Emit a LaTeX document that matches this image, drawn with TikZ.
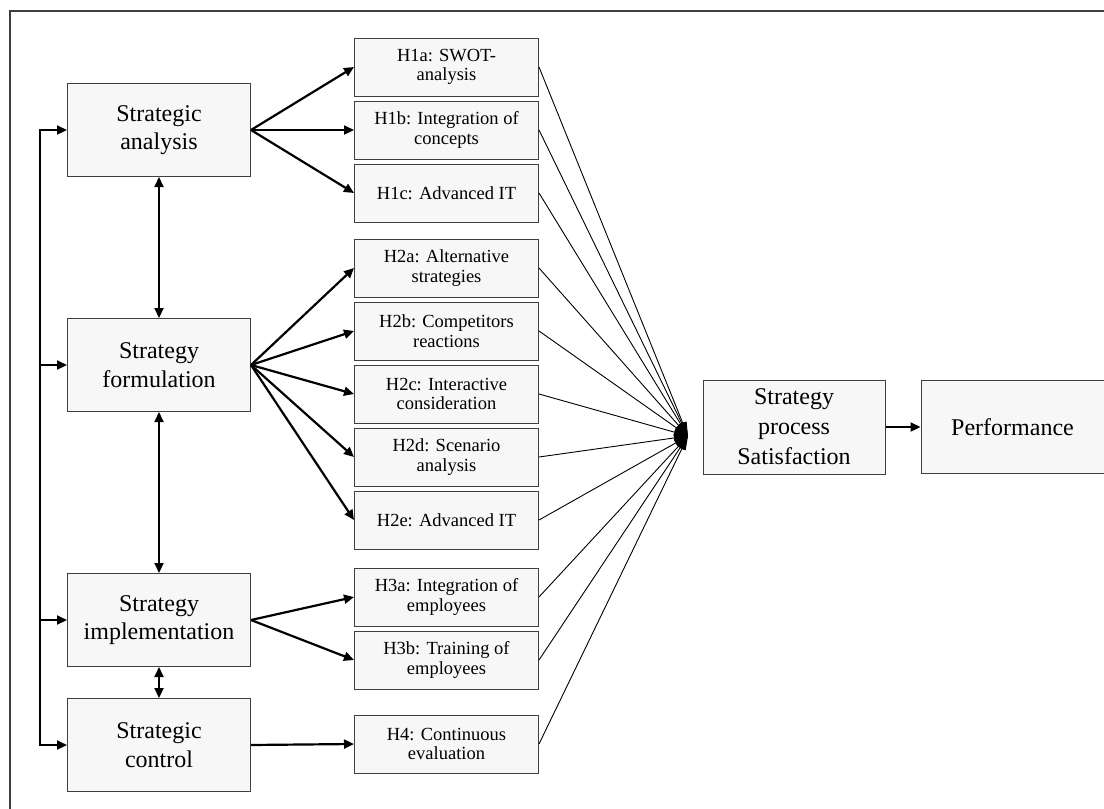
\documentclass[tikz,border=0pt]{standalone}
\usepackage{fontspec}
\setmainfont{Liberation Serif}
\usetikzlibrary{arrows.meta,positioning}
\definecolor{boxfill}{HTML}{F7F7F7}
\definecolor{boxline}{HTML}{3F3F3F}
\tikzstyle{mainbox}=[draw=boxline,fill=boxfill,line width=1pt,minimum width=183pt,minimum height=93pt,inner sep=0pt,align=center,font=\fontsize{24}{28.5}\selectfont]
\tikzstyle{hypbox}=[draw=boxline,fill=boxfill,line width=1pt,minimum width=184pt,minimum height=58pt,inner sep=0pt,align=center,font=\fontsize{18.5}{19.5}\selectfont]
\tikzstyle{link}=[line width=2.2pt,-{Triangle[length=10pt,width=9pt]}]
\tikzstyle{twoway}=[line width=2.2pt,{Triangle[length=10pt,width=9pt]}-{Triangle[length=10pt,width=9pt]}]
\tikzstyle{effect}=[line width=0.9pt,-{Triangle[length=14pt,width=8pt]}]

\begin{document}
\begin{tikzpicture}[x=1pt,y=-1pt,node distance=4pt]
\useasboundingbox (0,0) rectangle (1104,809);
\draw[boxline,line width=1.5pt] (1104,11) -- (10,11) -- (10,809);

% process phases
\node[mainbox] (analysis) at (159,130) {Strategic\\analysis};
\node[mainbox] (formulation) [below=141pt of analysis] {Strategy\\formulation};
\node[mainbox] (implementation) [below=161pt of formulation] {Strategy\\implementation};
\node[mainbox] (control) [below=31pt of implementation] {Strategic\\control};

% hypotheses
\node[hypbox] (H1b) [right=103pt of analysis] {H1b: Integration of\\concepts};
\node[hypbox] (H1a) [above=of H1b] {H1a: SWOT-\\analysis};
\node[hypbox] (H1c) [below=of H1b] {H1c: Advanced IT};
\node[hypbox] (H2a) [below=16pt of H1c] {H2a: Alternative\\strategies};
\node[hypbox] (H2b) [below=of H2a] {H2b: Competitors\\reactions};
\node[hypbox] (H2c) [below=of H2b] {H2c: Interactive\\consideration};
\node[hypbox] (H2d) [below=of H2c] {H2d: Scenario\\analysis};
\node[hypbox] (H2e) [below=of H2d] {H2e: Advanced IT};
\node[hypbox] (H3a) [below=18pt of H2e] {H3a: Integration of\\employees};
\node[hypbox] (H3b) [below=of H3a] {H3b: Training of\\employees};
\node[hypbox] (H4) [below=25pt of H3b] {H4: Continuous\\evaluation};

% outcomes
\node[mainbox,minimum width=182pt,minimum height=94pt,font=\fontsize{24}{30}\selectfont] (satisfaction) at (794,427) {Strategy\\process\\Satisfaction};
\node[mainbox] (performance) [right=35pt of satisfaction] {Performance};

\coordinate (conv) at (688,436);
\coordinate (bus) at (40,0);

\draw[twoway] (analysis.west) -- (analysis.west -| bus) -- (control.west -| bus) -- (control.west);
\draw[link] (formulation.west -| bus) -- (formulation.west);
\draw[link] (implementation.west -| bus) -- (implementation.west);

\path[twoway] (analysis) edge (formulation)
    (formulation) edge (implementation)
    (implementation) edge (control);

\path[link] (analysis.east) edge (H1a.west)
            edge (H1b.west)
            edge (H1c.west)
    (formulation.east) edge (H2a.west)
            edge (H2b.west)
            edge (H2c.west)
            edge (H2d.west)
            edge (H2e.west)
    (implementation.east) edge (H3a.west)
            edge (H3b.west)
    (control.east) edge (H4.west)
    (satisfaction) edge (performance);

\path[effect] (H1a.east) edge (conv)
    (H1b.east) edge (conv)
    (H1c.east) edge (conv)
    (H2a.east) edge (conv)
    (H2b.east) edge (conv)
    (H2c.east) edge (conv)
    (H2d.east) edge (conv)
    (H2e.east) edge (conv)
    (H3a.east) edge (conv)
    (H3b.east) edge (conv)
    (H4.east) edge (conv);

\end{tikzpicture}
\end{document}
